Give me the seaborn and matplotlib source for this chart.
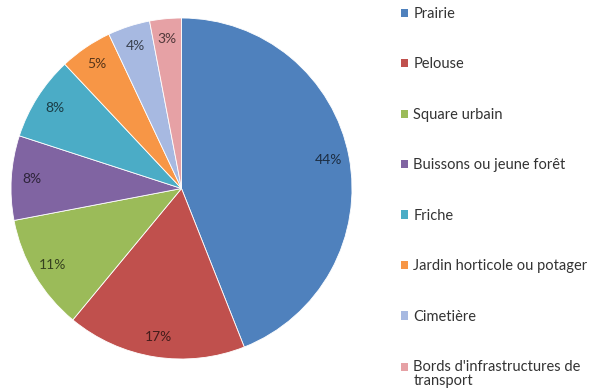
import matplotlib
matplotlib.use("Agg")
import matplotlib.pyplot as plt
import matplotlib.colors as mcolors
from matplotlib.patches import Patch
import seaborn as sns

categories = ["Prairie", "Pelouse", "Square urbain", "Buissons ou jeune forêt",
              "Friche", "Jardin horticole ou potager", "Cimetière",
              "Bords d'infrastructures de\ntransport"]
values = [44, 17, 11, 8, 8, 5, 4, 3]
colors = ["#4F81BD", "#C0504D", "#9BBB59", "#8064A2", "#4BACC6", "#F79646",
          "#A7B9E1", "#E6A1A5"]

sns.set_theme(style="white")
plt.rcParams['font.family'] = ['Lato', 'DejaVu Sans']

W, H = 595, 391
fig = plt.figure(figsize=(W / 100, H / 100), dpi=100)
cx, cy, r = 181.5, 188.5, 170.5
ax = fig.add_axes([(cx - r) / W, (H - cy - r) / H, 2 * r / W, 2 * r / H])

wedges, texts, autotexts = ax.pie(
    values, colors=colors, startangle=90, counterclock=False,
    autopct=lambda p: f"{p:.0f}%", pctdistance=0.88, radius=1,
    wedgeprops=dict(linewidth=0.6, edgecolor="white"),
    textprops=dict(fontsize=10))
for w, t in zip(wedges, autotexts):
    rgb = mcolors.to_rgb(w.get_facecolor())
    t.set_color(tuple(c * 0.35 for c in rgb))
ax.set_xlim(-1, 1)
ax.set_ylim(-1, 1)
ax.set_aspect("equal")
ax.axis("off")

handles = [Patch(facecolor=c, edgecolor="none") for c in colors]
leg = fig.legend(handles, categories, loc="upper left",
                 bbox_to_anchor=(401 / W, 1 - 7 / H), frameon=False,
                 fontsize=10.5, labelspacing=2.5, handlelength=0.5,
                 handleheight=0.5, handletextpad=0.35, labelcolor="#333333",
                 borderpad=0, borderaxespad=0)
for t in leg.get_texts():
    t.set_linespacing(1.0)
# keep the last marker level with the first line of its two-line label
last = leg.legend_handles[-1]
last.set_y(last.get_y() + 5.5)

fig.savefig("out.png", dpi=100, facecolor="white")
